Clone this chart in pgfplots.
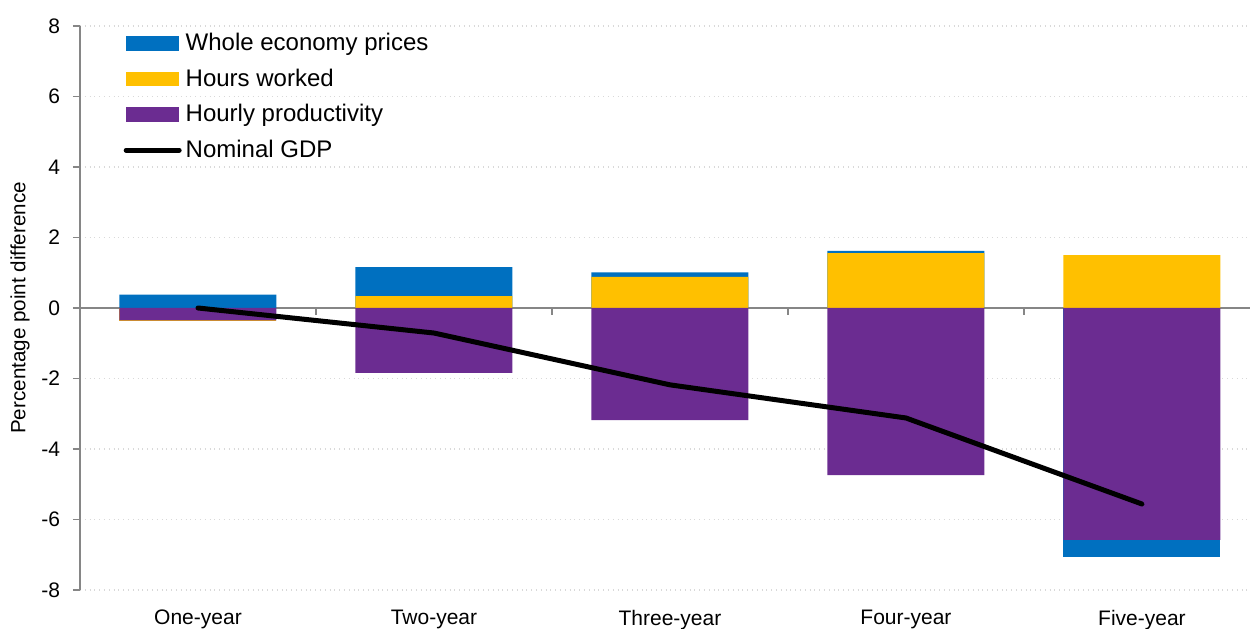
\documentclass[border=0pt]{standalone}
\usepackage{pgfplots}
\pgfplotsset{compat=1.18}
\usepackage{fontspec}
\setmainfont{Liberation Sans}
\definecolor{cblue}{HTML}{0070C0}
\definecolor{cyellow}{HTML}{FFC000}
\definecolor{cpurple}{HTML}{6B2C91}
\definecolor{axgray}{HTML}{868686}
\definecolor{gridgray}{HTML}{D9D9D9}
\begin{document}
\begin{tikzpicture}
\begin{axis}[
  scale only axis,
  width=585pt, height=282pt,
  xmin=-0.5, xmax=4.458,
  ymin=-8, ymax=8,
  ytick={-8,-6,...,8},
  yticklabels={-8,-6,-4,-2,0,2,4,6,8},
  xtick={0,1,2,3,4},
  xticklabels={One-year,Two-year,Three-year,Four-year,Five-year},
  axis x line*=bottom,
  x axis line style={draw=none},
  xtick style={draw=none},
  xticklabel style={font=\fontsize{10.5}{12}\selectfont, yshift=-3pt},
  axis y line*=left,
  y axis line style={axgray, line width=0.8pt},
  ytick style={axgray, line width=0.8pt},
  tick align=outside,
  major tick length=3.5pt,
  ymajorgrids,
  grid style={gridgray, dotted, line width=0.6pt},
  yticklabel style={font=\fontsize{10.5}{12}\selectfont, xshift=-3pt},
  ylabel={Percentage point difference},
  ylabel style={font=\fontsize{10.3}{12}\selectfont, at={(rel axis cs:-0.0513,0.5)}, anchor=center},
  ybar,
  bar width=78.5pt,
  legend style={at={(rel axis cs:0.037,0.995)}, anchor=north west, draw=none, fill=none,
    font=\fontsize{12}{14}\selectfont, row sep=3.6pt, inner sep=0pt,
    legend cell align=left},
  legend image code/.code={\fill[#1] (0pt,-3.6pt) rectangle (26.5pt,3.6pt);},
  clip=false,
]
\coordinate (sw) at (rel axis cs:0,0);
\coordinate (ne) at (rel axis cs:1,1);
% axis lines
\draw[axgray, line width=0.8pt] (rel axis cs:0,0) -- (rel axis cs:0,1);
\draw[axgray, line width=0.8pt] (rel axis cs:0,0.5) -- (rel axis cs:1.0,0.5);
\draw[axgray, line width=0.8pt] (axis cs:0.5,0) -- (axis cs:0.5,-0.2);
\draw[axgray, line width=0.8pt] (axis cs:1.5,0) -- (axis cs:1.5,-0.2);
\draw[axgray, line width=0.8pt] (axis cs:2.5,0) -- (axis cs:2.5,-0.2);
\draw[axgray, line width=0.8pt] (axis cs:3.5,0) -- (axis cs:3.5,-0.2);
% whole economy prices (drawn as top of positive stack)
\addplot[fill=cblue, draw=none, bar shift=0pt] coordinates {(0,0.38) (1,1.16) (2,1.01) (3,1.62)};
\addlegendentry{Whole economy prices}
\addplot[fill=cblue, draw=none, bar shift=0pt, forget plot] coordinates {(4,-7.06)};
\addplot[fill=cyellow, draw=none, bar shift=0pt, forget plot] coordinates {(0,-0.37)};
% hours worked
\addplot[fill=cyellow, draw=none, bar shift=0pt] coordinates {(1,0.34) (2,0.88) (3,1.56) (4,1.50)};
\addlegendentry{Hours worked}
% hourly productivity
\addplot[fill=cpurple, draw=none, bar shift=0pt] coordinates {(0,-0.35) (1,-1.84) (2,-3.18) (3,-4.74) (4,-6.58)};
\addlegendentry{Hourly productivity}
% nominal GDP
\addplot[sharp plot, black, line width=2.5pt, line cap=round, line join=round,
  legend image code/.code={\draw[black, line width=2.5pt, line cap=round] (0pt,0pt) -- (26.5pt,0pt);}]
  coordinates {(0,0) (1,-0.71) (2,-2.18) (3,-3.12) (4,-5.56)};
\addlegendentry{Nominal GDP}
\end{axis}
\pgfresetboundingbox
\path[use as bounding box] ([xshift=-40pt,yshift=-19pt]sw) rectangle ([xshift=0pt,yshift=13pt]ne);
\end{tikzpicture}
\end{document}
